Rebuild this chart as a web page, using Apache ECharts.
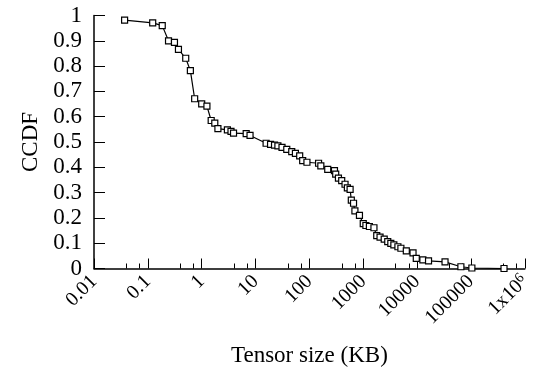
<!DOCTYPE html>
<html>
<head>
<meta charset="utf-8">
<script src="https://cdn.jsdelivr.net/npm/echarts@6/dist/echarts.min.js"></script>
<style>
  html, body { margin: 0; padding: 0; background: #fff; }
  #chart { width: 534px; height: 377px; }
</style>
</head>
<body>
<div id="chart"></div>
<script>
// tensor size (KB) and CCDF
const sizes = [
  0.037, 0.123, 0.185, 0.242, 0.312, 0.37, 0.505, 0.616, 0.74, 1.0,
  1.25, 1.5, 1.75, 2.0, 3.0, 3.5, 3.9, 6.7, 7.9, 15.7,
  19, 22.5, 26, 31, 38, 47, 55, 66, 75, 90,
  148, 163, 219, 292, 308, 346, 398, 459, 507, 570,
  600, 660, 700, 850, 1000, 1120, 1300, 1580, 1780, 2050,
  2450, 2850, 3250, 3700, 4400, 5000, 6300, 8400, 9650, 12800,
  16300, 33000, 65000, 104000, 411000
];
const ccdf = [
  0.982, 0.971, 0.96, 0.9, 0.894, 0.866, 0.831, 0.782, 0.671, 0.651,
  0.642, 0.585, 0.575, 0.553, 0.548, 0.542, 0.535, 0.533, 0.526, 0.495,
  0.491, 0.488, 0.485, 0.479, 0.471, 0.462, 0.455, 0.445, 0.426, 0.42,
  0.416, 0.406, 0.392, 0.387, 0.373, 0.357, 0.347, 0.333, 0.319, 0.313,
  0.27, 0.258, 0.228, 0.21, 0.177, 0.17, 0.166, 0.161, 0.13, 0.124,
  0.116, 0.106, 0.099, 0.093, 0.086, 0.08, 0.07, 0.062, 0.04, 0.034,
  0.03, 0.026, 0.007, 0.002, 0.0
];
// x tick labels, one per decade from 0.01 to 1e6
const xTickLabels = ['0.01', '0.1', '1', '10', '100', '1000', '10000', '100000', '1x10{s|6}'];

const font = 'Liberation Serif';
const chart = echarts.init(document.getElementById('chart'));

chart.setOption({
  animation: false,
  grid: { left: 94, right: 7, top: 15.5, bottom: 108.5 },
  xAxis: {
    type: 'log',
    logBase: 10,
    min: 0.01,
    max: 1000000,
    splitNumber: 8,
    name: 'Tensor size (KB)',
    nameLocation: 'middle',
    nameGap: 76,
    nameTextStyle: { fontFamily: font, fontSize: 23, color: '#000' },
    axisLine: { lineStyle: { color: '#000', width: 1.5 } },
    axisTick: { inside: true, length: 10, lineStyle: { color: '#000', width: 1 } },
    minorTick: { show: true, splitNumber: 3, length: 5, lineStyle: { color: '#000', width: 1 } },
    splitLine: { show: false },
    axisLabel: {
      rotate: 45,
      margin: 10,
      fontFamily: font,
      fontSize: 20,
      color: '#000',
      formatter: v => xTickLabels[Math.round(Math.log10(v)) + 2],
      rich: { s: { fontFamily: font, fontSize: 14, color: '#000', verticalAlign: 'top', padding: [0, 0, 8, 0] } }
    }
  },
  yAxis: {
    type: 'value',
    min: 0,
    max: 1,
    interval: 0.1,
    name: 'CCDF',
    nameLocation: 'middle',
    nameGap: 48,
    nameTextStyle: { fontFamily: font, fontSize: 23, color: '#000' },
    axisLine: { show: true, lineStyle: { color: '#000', width: 1.5 } },
    axisTick: { show: true, inside: true, length: 11, lineStyle: { color: '#000', width: 1 } },
    splitLine: { show: false },
    axisLabel: { margin: 12, fontFamily: font, fontSize: 23, color: '#000' }
  },
  series: [{
    type: 'line',
    data: sizes.map((s, i) => [s, ccdf[i]]),
    symbol: 'rect',
    symbolSize: 6,
    showAllSymbol: true,
    lineStyle: { color: '#000', width: 1.2 },
    itemStyle: { color: '#fff', borderColor: '#000', borderWidth: 1.2 }
  }]
});
</script>
</body>
</html>
